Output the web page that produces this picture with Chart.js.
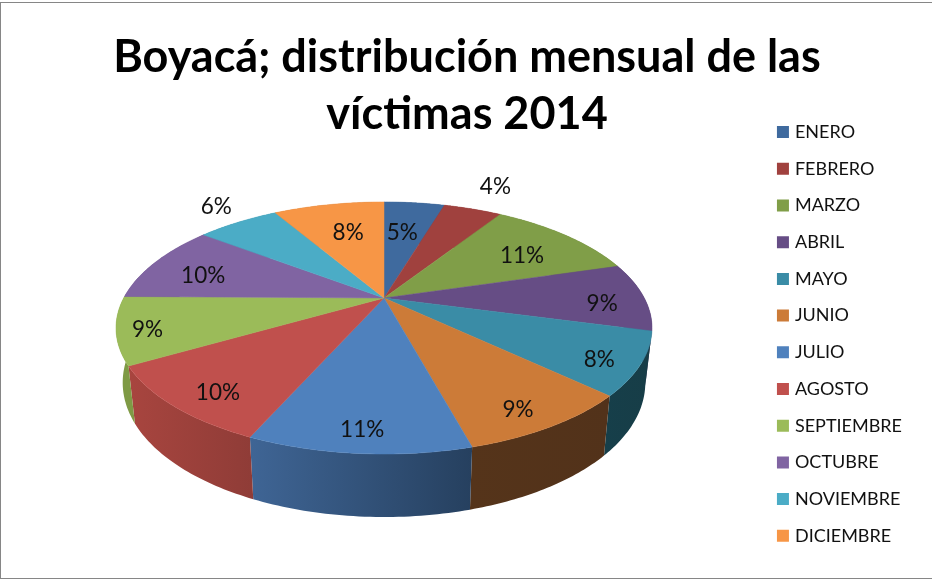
<!DOCTYPE html>
<html>
<head>
<meta charset="utf-8">
<title>Boyacá</title>
<script src="https://cdn.jsdelivr.net/npm/chart.js@4"></script>
<style>
    html, body { margin: 0; padding: 0; background: #fff; }
    #wrap { position: relative; width: 932px; height: 579px; overflow: hidden; }
    #frame { position: absolute; left: 0; top: 2px; width: 931px; height: 575px; border: 1px solid #868686; border-right: none; pointer-events: none; }
</style>
</head>
<body>
<div id="wrap">
    <canvas id="pieChart" width="932" height="579"></canvas>
    <div id="frame"></div>
</div>
<script>
const months = ['ENERO', 'FEBRERO', 'MARZO', 'ABRIL', 'MAYO', 'JUNIO', 'JULIO', 'AGOSTO', 'SEPTIEMBRE', 'OCTUBRE', 'NOVIEMBRE', 'DICIEMBRE'];
const shares = [4.6, 4.4, 11.4, 8.8, 7.9, 8.7, 10.8, 10.0, 8.6, 10.2, 6.2, 8.4];
const titleLines = ['Boyacá; distribución mensual de las', 'víctimas 2014'];

const topColors = ['#3f6a9e', '#a0413e', '#809e48', '#664d85', '#3a8ca6', '#cc7b38', '#4f81bd', '#c0504d', '#9bbb59', '#8064a2', '#4bacc6', '#f79646'];
const sideLeft = ['#2f4f76', '#77302e', '#5f7635', '#4c3963', '#163f4a', '#55341a', '#3f6595', '#a8453f', '#7f9a45', '#5f4a79', '#38808f', '#b86f33'];
const sideRight = ['#2f4f76', '#77302e', '#5f7635', '#4c3963', '#173d47', '#52321a', '#26405f', '#8f3c37', '#7f9a45', '#5f4a79', '#38808f', '#b86f33'];

// where each % label sits, relative to its slice
const labelRadius = [0.634, 1.33, 0.70, 0.83, 0.87, 0.874, 0.88, 0.857, 0.89, 0.753, 1.23, 0.649];
const labelTurn = [-1, 0, 3, 4, 3, 2, 0, -3, -1.5, -4, 1.5, 1];

// perspective of the tilted disc, in px around the apex of the pie
const apex = { x: 384, y: 298 };
const persp = { wide: 260.3, tall: 118.9, c: -0.238 };

function project(u, v) {
    const d = 1 + persp.c * v;
    return { x: apex.x + persp.wide * u / d, y: apex.y + persp.tall * v / d };
}

function rimPoint(angle, lower) {
    const u = Math.cos(angle), v = Math.sin(angle);
    const p = project(u, v);
    if (!lower) return p;
    return { x: apex.x + (p.x - apex.x) * 0.975, y: p.y + 52 + 11 * v };
}

const pie3d = {
    id: 'pie3d',
    beforeDatasetsDraw(chart) {
        const ctx = chart.ctx;
        const arcs = chart.getDatasetMeta(0).data;
        const total = shares.reduce((a, b) => a + b, 0);

        // sides first, the top face covers whatever is behind it
        arcs.forEach((arc, i) => {
            const top = [], low = [];
            for (let s = 0; s <= 40; s++) {
                const a = arc.startAngle + (arc.endAngle - arc.startAngle) * s / 40;
                top.push(rimPoint(a, false));
                low.push(rimPoint(a, true));
            }
            const xs = top.concat(low).map(p => p.x);
            const grad = ctx.createLinearGradient(Math.min(...xs), 0, Math.max(...xs), 0);
            grad.addColorStop(0, sideLeft[i]);
            grad.addColorStop(1, sideRight[i]);
            ctx.beginPath();
            top.forEach((p, k) => k ? ctx.lineTo(p.x, p.y) : ctx.moveTo(p.x, p.y));
            low.reverse().forEach(p => ctx.lineTo(p.x, p.y));
            ctx.closePath();
            ctx.fillStyle = grad;
            ctx.fill();
        });

        arcs.forEach((arc, i) => {
            ctx.beginPath();
            ctx.moveTo(apex.x, apex.y);
            for (let s = 0; s <= 40; s++) {
                const a = arc.startAngle + (arc.endAngle - arc.startAngle) * s / 40;
                const p = rimPoint(a, false);
                ctx.lineTo(p.x, p.y);
            }
            ctx.closePath();
            ctx.fillStyle = topColors[i];
            ctx.fill();
            ctx.strokeStyle = topColors[i];
            ctx.lineWidth = 0.5;
            ctx.stroke();
        });

        ctx.fillStyle = '#111';
        ctx.font = '22.5px Lato';
        ctx.textAlign = 'center';
        ctx.textBaseline = 'middle';
        arcs.forEach((arc, i) => {
            const mid = (arc.startAngle + arc.endAngle) / 2 + labelTurn[i] * Math.PI / 180;
            const p = project(labelRadius[i] * Math.cos(mid), labelRadius[i] * Math.sin(mid));
            ctx.fillText(Math.round(shares[i] / total * 100) + '%', p.x, p.y);
        });
        return false;
    }
};

new Chart(document.getElementById('pieChart'), {
    type: 'pie',
    data: {
        labels: months,
        datasets: [{
            data: shares,
            backgroundColor: topColors,
            borderColor: topColors,
            borderWidth: 6
        }]
    },
    options: {
        responsive: false,
        animation: false,
        layout: { padding: { left: 22, right: 20 } },
        plugins: {
            tooltip: { enabled: false },
            title: {
                display: true,
                text: titleLines,
                color: '#000',
                font: { family: 'Lato', size: 45, weight: 'bold', lineHeight: 1.267 },
                padding: { top: 29, bottom: 0 }
            },
            legend: {
                position: 'right',
                align: 'start',
                title: { display: true, text: ' ', font: { size: 12 }, padding: 45 },
                labels: {
                    color: '#111',
                    font: { family: 'Lato', size: 18 },
                    boxWidth: 6,
                    boxHeight: 6,
                    padding: 18.7
                }
            }
        }
    },
    plugins: [pie3d]
});
</script>
</body>
</html>
